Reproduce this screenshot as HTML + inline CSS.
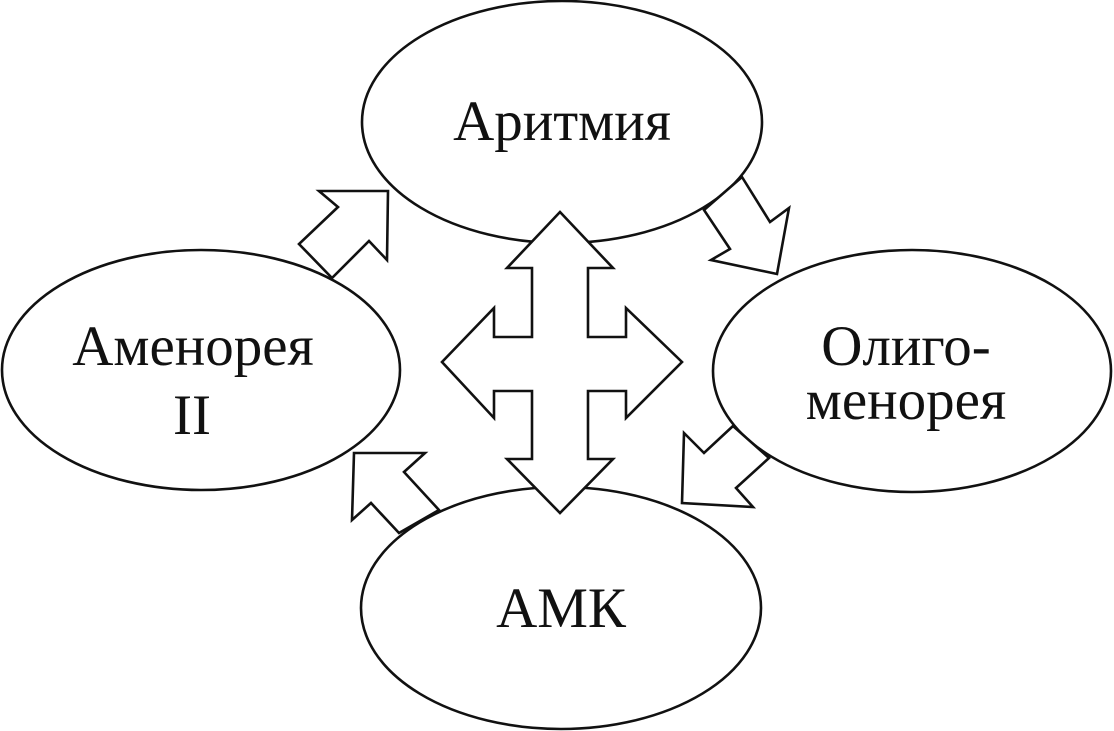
<!DOCTYPE html>
<html><head><meta charset="utf-8"><style>html,body{margin:0;padding:0;background:#fff}svg{display:block}</style></head>
<body>
<svg width="1114" height="731" viewBox="0 0 1114 731" xmlns="http://www.w3.org/2000/svg">
<g fill="#fff" stroke="#111" stroke-width="2.6">
<ellipse cx="562" cy="122" rx="200" ry="121"/>
<ellipse cx="201" cy="370" rx="199" ry="120"/>
<ellipse cx="912" cy="371" rx="199" ry="121"/>
<ellipse cx="561" cy="608" rx="200" ry="121"/>
<polygon stroke-linejoin="miter" points="560,212 613,268 588,268 588,337 626,337 626,308 682,362 626,418 626,391 588,391 588,459 613,459 560,513 507,459 532,459 532,391 494,391 494,418 442,362 494,308 494,337 532,337 532,268 507,268"/>
<polygon points="319,191 388,191 387,260 369,241 332,278 299,244 338,207"/>
<polygon points="742,177 770,222 789,208 777,274 711,260 730,249 704,210"/>
<polygon points="733,426 704,453 684,433 682,503 753,507 736,488 769,458"/>
<polygon points="354,453 425,453 404,472 439,510 399,533 371,503 352,520"/>
</g>
<g font-family="'Liberation Serif', serif" font-size="57" fill="#111" text-anchor="middle">
<text x="562" y="140">Аритмия</text>
<text x="193" y="365">Аменорея</text>
<text x="192" y="434">II</text>
<text x="906" y="365">Олиго-</text>
<text x="906" y="419">менорея</text>
<text x="561" y="627">АМК</text>
</g>
</svg>
</body></html>
